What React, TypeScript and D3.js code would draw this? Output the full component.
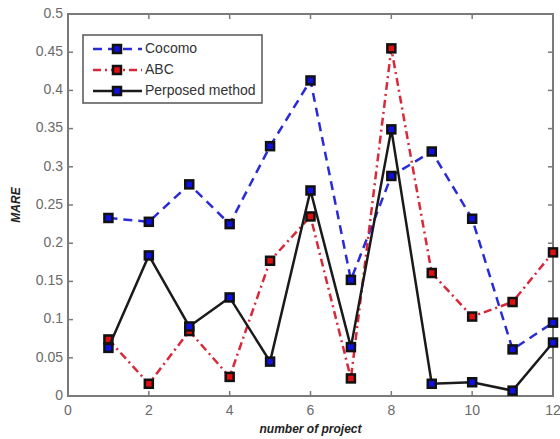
import { useEffect, useRef } from "react";
import * as d3 from "d3";

const projects = [1, 2, 3, 4, 5, 6, 7, 8, 9, 10, 11, 12];
const cocomo = [0.233, 0.228, 0.277, 0.225, 0.327, 0.413, 0.152, 0.288, 0.32, 0.232, 0.061, 0.096];
const abc = [0.074, 0.016, 0.085, 0.025, 0.177, 0.235, 0.023, 0.455, 0.161, 0.104, 0.123, 0.188];
const proposed = [0.063, 0.184, 0.091, 0.129, 0.045, 0.269, 0.064, 0.349, 0.016, 0.018, 0.007, 0.07];
const xTicks = [0, 2, 4, 6, 8, 10, 12];
const yTicks = [0, 0.05, 0.1, 0.15, 0.2, 0.25, 0.3, 0.35, 0.4, 0.45, 0.5];

const seriesList = [
  { name: "Cocomo", values: cocomo, stroke: "#2a2ad8", dash: "9,6", fill: "#1010e0" },
  { name: "ABC", values: abc, stroke: "#d8283a", dash: "8,4,2,4", fill: "#e01010" },
  { name: "Perposed method", values: proposed, stroke: "#1a1a1a", dash: null, fill: "#1010e0" },
];

const App = () => {
  const svgRef = useRef<SVGSVGElement>(null);

  useEffect(() => {
    const width = 560;
    const height = 439;
    const margin = { top: 14, right: 7, bottom: 43, left: 68 };

    const svg = d3.select(svgRef.current);
    svg.selectAll("*").remove();
    svg.attr("width", width).attr("height", height);

    svg.append("rect").attr("width", width).attr("height", height).attr("fill", "white");

    const x = d3.scaleLinear().domain([0, 12]).range([margin.left, width - margin.right]);
    const y = d3.scaleLinear().domain([0, 0.5]).range([height - margin.bottom, margin.top]);

    const axisColor = "#7a7a7a";
    const font = "Arial, 'Liberation Sans', sans-serif";

    // box
    svg
      .append("rect")
      .attr("x", x(0))
      .attr("y", y(0.5))
      .attr("width", x(12) - x(0))
      .attr("height", y(0) - y(0.5))
      .attr("fill", "none")
      .attr("stroke", axisColor)
      .attr("stroke-width", 2);

    // ticks (inward, all sides)
    xTicks.forEach((t) => {
      svg.append("line").attr("x1", x(t)).attr("x2", x(t)).attr("y1", y(0)).attr("y2", y(0) - 5).attr("stroke", axisColor).attr("stroke-width", 1.5);
      svg.append("line").attr("x1", x(t)).attr("x2", x(t)).attr("y1", y(0.5)).attr("y2", y(0.5) + 5).attr("stroke", axisColor).attr("stroke-width", 1.5);
      svg
        .append("text")
        .attr("x", x(t))
        .attr("y", y(0) + 19)
        .attr("text-anchor", "middle")
        .attr("fill", "#6a6a6a")
        .style("font-family", font)
        .style("font-size", "14px")
        .text(t);
    });

    yTicks.forEach((t) => {
      svg.append("line").attr("x1", x(0)).attr("x2", x(0) + 5).attr("y1", y(t)).attr("y2", y(t)).attr("stroke", axisColor).attr("stroke-width", 1.5);
      svg.append("line").attr("x1", x(12)).attr("x2", x(12) - 5).attr("y1", y(t)).attr("y2", y(t)).attr("stroke", axisColor).attr("stroke-width", 1.5);
      svg
        .append("text")
        .attr("x", x(0) - 5)
        .attr("y", y(t))
        .attr("text-anchor", "end")
        .attr("dominant-baseline", "middle")
        .attr("fill", "#6a6a6a")
        .style("font-family", font)
        .style("font-size", "14px")
        .text(t);
    });

    // lines and markers
    const line = d3
      .line<number>()
      .x((d, i) => x(projects[i]))
      .y((d) => y(d));

    seriesList.forEach((s) => {
      const path = svg
        .append("path")
        .attr("d", line(s.values))
        .attr("fill", "none")
        .attr("stroke", s.stroke)
        .attr("stroke-width", 2.5);
      if (s.dash) path.attr("stroke-dasharray", s.dash);

      s.values.forEach((v, i) => {
        svg
          .append("rect")
          .attr("x", x(projects[i]) - 4)
          .attr("y", y(v) - 4)
          .attr("width", 8)
          .attr("height", 8)
          .attr("fill", s.fill)
          .attr("stroke", "#111")
          .attr("stroke-width", 2.5);
      });
    });

    // legend
    const lg = svg.append("g").attr("transform", "translate(83,35)");
    lg.append("rect")
      .attr("width", 179)
      .attr("height", 68)
      .attr("fill", "white")
      .attr("stroke", "#555")
      .attr("stroke-width", 1.5);

    seriesList.forEach((s, i) => {
      const ly = 14 + i * 21;
      const l = lg
        .append("line")
        .attr("x1", 10)
        .attr("x2", 59)
        .attr("y1", ly)
        .attr("y2", ly)
        .attr("stroke", s.stroke)
        .attr("stroke-width", 2.5);
      if (s.dash) l.attr("stroke-dasharray", s.dash);
      lg.append("rect")
        .attr("x", 30)
        .attr("y", ly - 4)
        .attr("width", 8)
        .attr("height", 8)
        .attr("fill", s.fill)
        .attr("stroke", "#111")
        .attr("stroke-width", 2.5);
      lg.append("text")
        .attr("x", 62)
        .attr("y", ly)
        .attr("dominant-baseline", "middle")
        .attr("fill", "#333")
        .style("font-family", font)
        .style("font-size", "14px")
        .text(s.name);
    });

    // axis labels
    svg
      .append("text")
      .attr("x", (x(0) + x(12)) / 2)
      .attr("y", height - 6)
      .attr("text-anchor", "middle")
      .attr("fill", "#222")
      .style("font-family", font)
      .style("font-size", "12px")
      .style("font-weight", "bold")
      .style("font-style", "italic")
      .text("number of project");

    svg
      .append("text")
      .attr("transform", `translate(20,${(y(0) + y(0.5)) / 2}) rotate(-90)`)
      .attr("text-anchor", "middle")
      .attr("fill", "#222")
      .style("font-family", font)
      .style("font-size", "12px")
      .style("font-weight", "bold")
      .style("font-style", "italic")
      .text("MARE");
  }, []);

  return (
    <div style={{ position: "absolute", left: 0, top: 0 }}>
      <svg ref={svgRef}></svg>
    </div>
  );
};

export default App;
